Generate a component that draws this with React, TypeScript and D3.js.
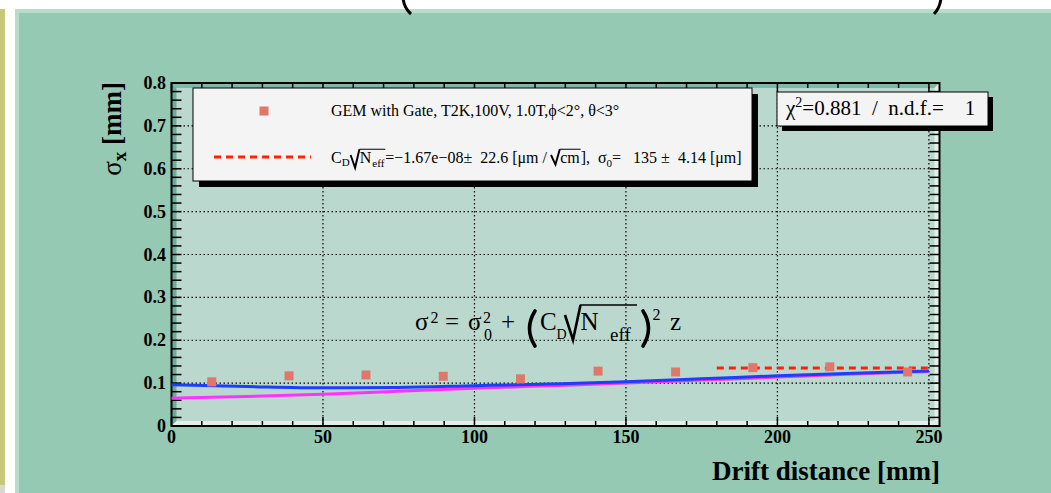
import React from "react";
import * as d3 from "d3";

const FONT = '"Liberation Serif", "Times New Roman", Times, serif';

// ---------- data ----------
const driftDistance = [13.3, 38.8, 64.2, 89.7, 115.2, 140.8, 166.4, 191.9, 217.3, 243.0];
const sigmaX = [0.103, 0.117, 0.119, 0.116, 0.110, 0.128, 0.126, 0.136, 0.138, 0.126];
const sigmaXErr = [0.004, 0.004, 0.004, 0.004, 0.004, 0.004, 0.009, 0.008, 0.008, 0.009];

const curveZ = [0, 25, 50, 75, 100, 125, 150, 175, 200, 225, 250];
const blueSigma = [0.096, 0.092, 0.089, 0.09, 0.094, 0.098, 0.103, 0.11, 0.117, 0.123, 0.128];
const magentaSigma = [0.065, 0.069, 0.074, 0.081, 0.088, 0.094, 0.1, 0.107, 0.114, 0.121, 0.127];

const fitZ = [180, 250];
const fitSigma = [0.1355, 0.1355];

const xTickValues = [0, 50, 100, 150, 200, 250];
const xTickLabels = ["0", "50", "100", "150", "200", "250"];
const yTickValues = [0, 0.1, 0.2, 0.3, 0.4, 0.5, 0.6, 0.7, 0.8];
const yTickLabels = ["0", "0.1", "0.2", "0.3", "0.4", "0.5", "0.6", "0.7", "0.8"];

const legendLabel = "GEM with Gate, T2K,100V, 1.0T,\u03d5<2\u00b0, \u03b8<3\u00b0";
const chi2Value = "0.881";
const ndfValue = "1";
const fitCD = "\u22121.67e\u221208";
const fitCDErr = "22.6";
const fitSigma0 = "135";
const fitSigma0Err = "4.14";

// ---------- layout ----------
const W = 1051;
const H = 493;
const FX0 = 171.5, FX1 = 939.5, FY0 = 83, FY1 = 426;

const x = d3.scaleLinear().domain([0, 253.5]).range([FX0, FX1]);
const y = d3.scaleLinear().domain([0, 0.8]).range([FY1, FY0]);

const PRE = { whiteSpace: "pre" as const };

let ctx: CanvasRenderingContext2D | null = null;
function tw(t: string, s: number, w: string = "normal") {
  if (!ctx) ctx = document.createElement("canvas").getContext("2d");
  ctx!.font = `${w} ${s}px "Liberation Serif"`;
  return ctx!.measureText(t).width;
}

type Piece =
  | { t: string; s: number; dy?: number; w?: string }
  | { sqrt: Piece[]; s: number; depth?: number }
  | { gap: number };

function layout(pieces: Piece[], x0: number, base: number, els: any[], kp: string): number {
  let cx = x0;
  pieces.forEach((p: any, i) => {
    const k = kp + "-" + i;
    if (p.gap !== undefined) {
      cx += p.gap;
    } else if (p.t !== undefined) {
      els.push(
        <text key={k} x={cx} y={base - (p.dy || 0)} fontSize={p.s} fontWeight={p.w || "normal"} fontFamily={FONT} fill="#000" style={PRE}>
          {p.t}
        </text>
      );
      cx += tw(p.t, p.s, p.w);
    } else if (p.sqrt) {
      const s = p.s;
      const rw = 0.55 * s;
      const top = base - 0.86 * s;
      const bot = base + (p.depth ?? 0.2) * s;
      const innerEnd = layout(p.sqrt, cx + rw + 0.02 * s, base, els, k);
      els.push(
        <path
          key={k + "r"}
          d={`M${cx},${base - 0.5 * s} L${cx + 0.28 * s},${bot} L${cx + rw},${top}`}
          fill="none"
          stroke="#000"
          strokeWidth={Math.max(1.8, s * 0.12)}
          strokeLinejoin="miter"
        />
      );
      els.push(
        <line key={k + "o"} x1={cx + rw} x2={innerEnd + 1} y1={top} y2={top} stroke="#000" strokeWidth={Math.max(1, s * 0.05)} />
      );
      cx = innerEnd + 0.06 * s;
    }
  });
  return cx;
}

function Rich({ pieces, x0, base }: { pieces: Piece[]; x0: number; base: number }) {
  const els: any[] = [];
  layout(pieces, x0, base, els, "r");
  return <g>{els}</g>;
}

const LS = 16; // legend font size
const LSub = 11;

const legendRow2: Piece[] = [
  { t: "C", s: LS },
  { t: "D", s: LSub, dy: -3 },
  { gap: 1 },
  { sqrt: [{ t: "N", s: LS }, { gap: 1 }, { t: "eff", s: LSub, dy: -3.5 }], s: LS, depth: 0.3 },
  { t: `=${fitCD}\u00b1  ${fitCDErr} [\u03bcm / `, s: LS },
  { sqrt: [{ t: "cm", s: LS }], s: LS, depth: 0.1 },
  { t: "],  \u03c3", s: LS },
  { t: "0", s: LSub, dy: -3.5 },
  { t: `=   ${fitSigma0} \u00b1  ${fitSigma0Err} [\u03bcm]`, s: LS },
];

// Big formula, ROOT TLatex style, placed piece by piece
const FS = 25;
const FSup = 16;
const FB = 330; // baseline

function Formula() {
  const T = (k: string, xx: number, yy: number, s: number, t: string) => (
    <text key={k} x={xx} y={yy} fontSize={s} style={PRE}>
      {t}
    </text>
  );
  return (
    <g fill="#000">
      {T("s1", 415, FB, FS, "\u03c3")}
      {T("s1p", 430.5, 323, FSup, "2")}
      {T("eq", 445, FB, FS, "=")}
      {T("s2", 468, FB, FS, "\u03c3")}
      {T("s2p", 483, 323, FSup, "2")}
      {T("s2b", 484, 340, FSup, "0")}
      {T("pl", 501, FB, FS, "+")}
      <path d="M535,311 Q524,328.5 535,346" fill="none" stroke="#000" strokeWidth={3.6} strokeLinecap="round" />
      {T("C", 540, FB, FS, "C")}
      {T("D", 556.5, 339, 14, "D")}
      <path d="M565,315 L573,340 L580.5,305" fill="none" stroke="#000" strokeWidth={2.6} strokeLinejoin="miter" />
      <line x1={580} x2={637} y1={305} y2={305} stroke="#000" strokeWidth={1.3} />
      {T("N", 580.5, FB, FS, "N")}
      {T("eff", 610, 341, 19, "eff")}
      <path d="M643,311 Q654,328.5 643,346" fill="none" stroke="#000" strokeWidth={3.6} strokeLinecap="round" />
      {T("p2", 652.5, 320, FSup, "2")}
      {T("z", 670, FB, FS, "z")}
    </g>
  );
}

export default function App() {
  const xMinor = d3.range(0, 251, 10);
  const yMinor = d3.range(0, 0.8001, 0.02);
  const line = d3
    .line<number>()
    .x((_, i) => x(curveZ[i]))
    .curve(d3.curveMonotoneX);
  const bluePath = line.y((d) => y(d))(blueSigma) || "";
  const magentaPath = line.y((d) => y(d))(magentaSigma) || "";
  const fitPath =
    d3
      .line<number>()
      .x((_, i) => x(fitZ[i]))
      .y((d) => y(d))(fitSigma) || "";

  const bev = 5;
  const LX = 193, LY = 88, LW = 559, LH = 93;
  const CX = 777, CY = 92, CW = 211, CH = 34;

  return (
    <svg
      width={W}
      height={H}
      style={{ position: "absolute", left: 0, top: 0, display: "block", background: "#fff" }}
      fontFamily={FONT}
    >
      {/* left strip */}
      <rect x={0} y={9} width={5} height={476} fill="#c8c87c" />
      <rect x={0} y={485} width={5} height={8} fill="#d8d8d0" />
      {/* canvas */}
      <rect x={15} y={9} width={W - 15} height={H - 9} fill="#95c9b3" />
      <rect x={15} y={9} width={W - 15} height={4} fill="#b8dccb" />
      <rect x={15} y={9} width={4} height={H - 9} fill="#b8dccb" />

      {/* cut-off title parentheses */}
      <path d="M403,-2 Q404,8 411,14" fill="none" stroke="#000" strokeWidth={3} />
      <path d="M941,-2 Q940,8 934,14" fill="none" stroke="#000" strokeWidth={3} />

      {/* frame */}
      <rect x={FX0} y={FY0} width={FX1 - FX0} height={FY1 - FY0} fill="#bbd8cf" />
      <polygon points={`${FX0},${FY0} ${FX0 + bev},${FY0 + bev} ${FX0 + bev},${FY1 - bev} ${FX0},${FY1}`} fill="#6fab9a" />
      <polygon points={`${FX0},${FY0} ${FX1},${FY0} ${FX1 - bev},${FY0 + bev} ${FX0 + bev},${FY0 + bev}`} fill="#80b8a8" />
      <polygon points={`${FX0},${FY1} ${FX1},${FY1} ${FX1 - bev},${FY1 - bev} ${FX0 + bev},${FY1 - bev}`} fill="#e4efeb" />
      <polygon points={`${FX1},${FY0} ${FX1},${FY1} ${FX1 - bev},${FY1 - bev} ${FX1 - bev},${FY0 + bev}`} fill="#e4efeb" />

      {/* grid */}
      {xTickValues.slice(1).map((v) => (
        <line key={"gx" + v} x1={x(v)} x2={x(v)} y1={FY0} y2={FY1} stroke="#000" strokeWidth={1.2} strokeDasharray="1.5,2.5" />
      ))}
      {yTickValues.slice(1, -1).map((v) => (
        <line key={"gy" + v} x1={FX0} x2={FX1} y1={y(v)} y2={y(v)} stroke="#000" strokeWidth={1.2} strokeDasharray="1.5,2.5" />
      ))}

      {/* ticks */}
      {xMinor.map((v) => {
        const len = v % 50 === 0 ? 9 : 5;
        return (
          <g key={"tx" + v}>
            <line x1={x(v)} x2={x(v)} y1={FY1} y2={FY1 - len} stroke="#000" strokeWidth={1.5} />
            <line x1={x(v)} x2={x(v)} y1={FY0} y2={FY0 + len} stroke="#000" strokeWidth={1.5} />
          </g>
        );
      })}
      {yMinor.map((v, i) => (
        <g key={"ty" + i}>
          <line x1={FX0} x2={FX0 + 10} y1={y(v)} y2={y(v)} stroke="#000" strokeWidth={1.5} />
          <line x1={FX1} x2={FX1 - 10} y1={y(v)} y2={y(v)} stroke="#000" strokeWidth={1.5} />
        </g>
      ))}
      <rect x={FX0} y={FY0} width={FX1 - FX0} height={FY1 - FY0} fill="none" stroke="#000" strokeWidth={2} />

      {/* curves */}
      <path d={magentaPath} fill="none" stroke="#ff33ff" strokeWidth={3} />
      <path d={bluePath} fill="none" stroke="#1f3dff" strokeWidth={3} />
      <path d={fitPath} fill="none" stroke="#ff2200" strokeWidth={3} strokeDasharray="7,5" />

      {/* data points */}
      {driftDistance.map((dx, i) => {
        const cx = x(dx);
        const cy = y(sigmaX[i]);
        const ePx = y(sigmaX[i] - sigmaXErr[i]) - cy;
        return (
          <g key={"pt" + i}>
            {ePx > 4.5 && (
              <g stroke="#000" strokeWidth={1.2}>
                <line x1={cx} x2={cx} y1={cy - ePx} y2={cy + ePx} />
                <line x1={cx - 5} x2={cx + 5} y1={cy - ePx} y2={cy - ePx} />
                <line x1={cx - 5} x2={cx + 5} y1={cy + ePx} y2={cy + ePx} />
              </g>
            )}
            <rect x={cx - 4.5} y={cy - 4.5} width={9} height={9} fill="#e0776b" />
          </g>
        );
      })}

      {/* axis labels */}
      {xTickValues.map((v, i) => (
        <text key={"xl" + v} x={x(v)} y={443} fontSize={18} fontWeight="bold" textAnchor="middle">
          {xTickLabels[i]}
        </text>
      ))}
      {yTickValues.map((v, i) => (
        <text key={"yl" + v} x={166} y={y(v) + 6} fontSize={18} fontWeight="bold" textAnchor="end">
          {yTickLabels[i]}
        </text>
      ))}

      {/* titles */}
      <text x={940} y={480} fontSize={27} fontWeight="bold" textAnchor="end">
        Drift distance [mm]
      </text>
      <text transform="translate(121,82) rotate(-90)" fontSize={27} textAnchor="end" style={PRE}>
        <tspan>{"\u03c3"}</tspan>
        <tspan fontWeight="bold" fontSize={19} dy={5}>x</tspan>
        <tspan fontWeight="bold" dy={-5}>{" [mm]"}</tspan>
      </text>

      {/* legend */}
      <rect x={LX + 6} y={LY + 6} width={LW} height={LH} fill="#000" />
      <rect x={LX} y={LY} width={LW} height={LH} fill="#f4f4f4" stroke="#000" strokeWidth={1} />
      <rect x={264 - 4.5} y={111 - 4.5} width={9} height={9} fill="#e0776b" />
      <text x={331} y={116} fontSize={LS} style={PRE}>
        {legendLabel}
      </text>
      <line x1={214} x2={311} y1={157} y2={157} stroke="#ff2200" strokeWidth={3} strokeDasharray="7,5" />
      <Rich pieces={legendRow2} x0={331} base={163} />

      {/* chi2 box */}
      <rect x={CX + 5} y={CY + 5} width={CW} height={CH} fill="#000" />
      <rect x={CX} y={CY} width={CW} height={CH} fill="#f4f4f4" stroke="#000" strokeWidth={1} />
      <text x={786} y={115} fontSize={21} style={PRE}>
        {"\u03c7"}
      </text>
      <text x={786 + tw("\u03c7", 21)} y={107} fontSize={14} style={PRE}>
        2
      </text>
      <text x={786 + tw("\u03c7", 21) + tw("2", 14)} y={115} fontSize={21} style={PRE}>
        {`=${chi2Value}  /  n.d.f.=    ${ndfValue}`}
      </text>

      {/* formula */}
      <Formula />
    </svg>
  );
}
